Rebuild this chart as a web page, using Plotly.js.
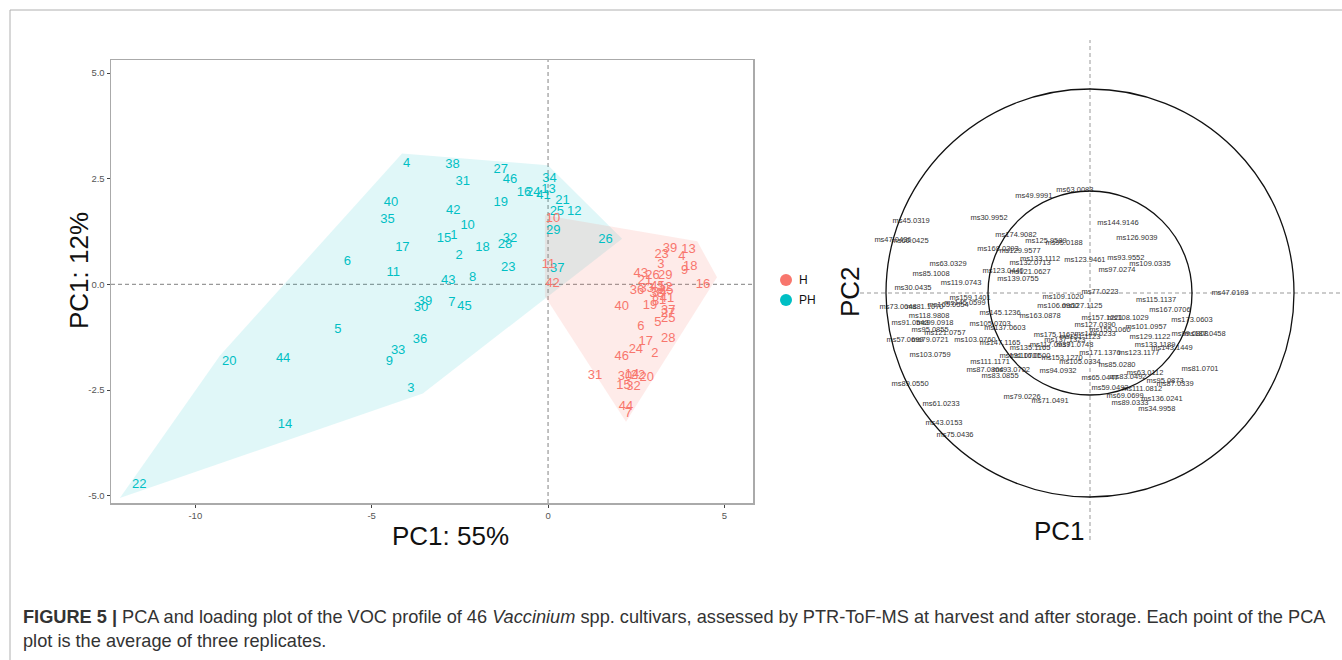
<!DOCTYPE html>
<html>
<head>
<meta charset="utf-8">
<script src="https://cdn.plot.ly/plotly-3.0.1.min.js"></script>
<style>html,body{margin:0;padding:0;background:#fff;}#chart{width:1342px;height:660px;}</style>
</head>
<body>
<div id="chart"></div>
<script>
// ---------- PCA scores (left panel) ----------
const phIds = [1,2,3,4,5,6,7,8,9,10,11,12,13,14,15,16,17,18,19,20,21,22,23,24,25,26,27,28,29,30,31,32,33,34,35,36,37,38,39,40,41,42,43,44,45,46];
const phPC1 = [-2.67,-2.52,-3.89,-4.01,-5.96,-5.69,-2.73,-2.14,-4.50,-2.28,-4.39,0.74,0.01,-7.46,-2.95,-0.68,-4.13,-1.86,-1.34,-9.04,0.41,-11.59,-1.13,-0.42,0.25,1.63,-1.34,-1.22,0.15,-3.60,-2.42,-1.08,-4.25,0.04,-4.55,-3.63,0.26,-2.71,-3.49,-4.45,-0.13,-2.69,-2.83,-7.51,-2.37,-1.08];
const phPC2 = [1.16,0.69,-2.47,2.86,-1.06,0.53,-0.44,0.16,-1.83,1.38,0.28,1.71,2.25,-3.33,1.07,2.16,0.88,0.87,1.93,-1.82,1.97,-4.74,0.40,2.18,1.71,1.06,2.72,0.94,1.26,-0.55,2.42,1.07,-1.56,2.49,1.52,-1.30,0.37,2.84,-0.40,1.94,2.11,1.75,0.09,-1.75,-0.52,2.48];

const hIds = [1,2,3,4,5,6,7,8,9,10,11,12,13,14,15,16,17,18,19,20,21,22,23,24,25,26,27,28,29,30,31,32,33,34,35,36,37,38,39,40,41,42,43,44,45,46];
const hPC1 = [3.25,3.03,3.20,3.79,3.11,2.63,2.28,3.05,3.87,0.14,0.01,3.32,3.98,2.38,2.14,4.39,2.77,4.03,2.89,2.80,2.75,2.55,3.22,2.49,3.41,2.96,3.40,3.41,3.32,2.18,1.33,2.42,2.80,3.15,3.35,2.52,3.41,3.08,3.46,2.09,3.37,0.13,2.63,2.21,3.10,2.09];
const hPC2 = [-0.38,-1.64,0.47,0.65,-0.91,-1.01,-3.06,-0.40,0.32,1.56,0.47,-0.08,0.83,-2.14,-2.39,-0.01,-1.35,0.41,-0.50,-2.20,0.09,-2.16,0.71,-1.55,-0.81,0.21,-0.70,-1.29,0.21,-2.18,-2.16,-2.42,-0.10,-0.20,-0.15,-0.14,-0.62,-0.22,0.85,-0.52,-0.34,0.02,0.25,-2.89,-0.06,-1.71];

// convex hull outlines
const phHullX = [-12.14,-3.55,2.10,0.00,-4.14,-9.30];
const phHullY = [-5.05,-2.58,1.08,2.82,3.10,-1.68];
const hHullX = [-0.09,4.23,4.79,2.21,-0.09];
const hHullY = [1.64,1.02,0.17,-3.25,-0.28];

const groups = ["H","PH"];
const xTicks = [-10,-5,0,5];
const yTicks = [-5,-2.5,0,2.5,5];

// ---------- Loadings (right panel) ----------
const loadNames = ["ms49.9991","ms63.0083","ms144.9146","ms126.9039","ms93.9552","ms109.0335","ms123.9461","ms97.0274","ms45.0319","ms47.0436","ms60.0425","ms30.9952","ms174.9082","ms125.9589","ms95.0188","ms168.0393","ms129.9577","ms133.1112","ms132.0713","ms63.0329","ms85.1008","ms119.0743","ms123.0440","ms121.0627","ms139.0755","ms30.0435","ms47.0193","ms77.0223","ms109.1020","ms106.0960","ms127.1125","ms159.1401","ms73.0648","ms81.1070","ms165.0554","ms145.0599","ms145.1236","ms163.0878","ms118.9808","ms99.0918","ms91.0543","ms105.0703","ms137.0603","ms95.0855","ms121.0757","ms57.0699","ms79.0721","ms103.0760","ms175.1162","ms147.1165","ms117.0937","ms149.0233","ms103.0759","ms135.1165","ms116.0500","ms89.0550","ms61.0233","ms43.0153","ms75.0436","ms79.0226","ms71.0491","ms94.0932","ms115.1137","ms157.1221","ms108.1029","ms101.0957","ms173.0603","ms167.0706","ms133.1189","ms143.1449","ms171.1376","ms123.1177","ms85.0280","ms81.0701","ms111.0812","ms136.0241","ms34.9958","ms89.0333","ms65.0447","ms83.0492","ms63.0112","ms95.0873","ms87.0339","ms99.0808","ms187.0458","ms129.1122","ms69.0699","ms59.0492","ms151.1123","ms91.0748","ms137.1323","ms105.0334","ms153.1270","ms87.0804","ms83.0855","ms93.0702","ms111.1171","ms131.0701","ms127.0390","ms155.1060"];
const loadPC1 = [-0.275,-0.074,0.137,0.230,0.176,0.294,-0.025,0.132,-0.877,-0.966,-0.882,-0.495,-0.363,-0.216,-0.127,-0.451,-0.343,-0.245,-0.294,-0.696,-0.779,-0.632,-0.426,-0.294,-0.353,-0.868,0.686,0.049,-0.132,-0.157,-0.039,-0.588,-0.941,-0.809,-0.696,-0.613,-0.441,-0.245,-0.789,-0.760,-0.882,-0.490,-0.417,-0.784,-0.711,-0.907,-0.784,-0.564,-0.176,-0.441,-0.196,0.025,-0.784,-0.294,-0.294,-0.882,-0.730,-0.716,-0.662,-0.333,-0.196,-0.157,0.324,0.059,0.186,0.275,0.500,0.392,0.319,0.402,0.049,0.240,0.132,0.539,0.255,0.353,0.328,0.196,0.049,0.186,0.270,0.368,0.417,0.490,0.564,0.294,0.172,0.098,-0.049,-0.074,-0.123,-0.049,-0.137,-0.515,-0.441,-0.385,-0.490,-0.343,0.025,0.098];
const loadPC2 = [0.475,0.505,0.343,0.270,0.172,0.142,0.162,0.113,0.353,0.260,0.255,0.368,0.284,0.255,0.245,0.216,0.206,0.167,0.147,0.142,0.093,0.049,0.108,0.103,0.069,0.025,0.000,0.005,-0.020,-0.064,-0.064,-0.025,-0.069,-0.069,-0.059,-0.049,-0.098,-0.113,-0.113,-0.147,-0.147,-0.152,-0.172,-0.181,-0.196,-0.230,-0.230,-0.230,-0.206,-0.245,-0.255,-0.201,-0.304,-0.270,-0.309,-0.446,-0.544,-0.637,-0.696,-0.510,-0.529,-0.382,-0.034,-0.123,-0.123,-0.167,-0.132,-0.083,-0.255,-0.270,-0.294,-0.294,-0.353,-0.373,-0.471,-0.520,-0.569,-0.539,-0.417,-0.412,-0.392,-0.431,-0.446,-0.201,-0.201,-0.216,-0.505,-0.466,-0.216,-0.255,-0.230,-0.338,-0.319,-0.377,-0.407,-0.377,-0.338,-0.309,-0.157,-0.181];
const circleRadii = [1, 0.5];

// ---------- styling ----------
const W = 1342, H = 660;
const px = v => v / W;
const py = v => 1 - v / H;
const teal = "#00BFC4", red = "#F8766D";
const FONT = "Liberation Sans, Arial, sans-serif";

const traces = [
  {x: phHullX, y: phHullY, type: "scatter", mode: "lines", fill: "toself",
   fillcolor: "rgba(0,191,196,0.12)", line: {width: 0}, hoverinfo: "skip", showlegend: false},
  {x: hHullX, y: hHullY, type: "scatter", mode: "lines", fill: "toself",
   fillcolor: "rgba(248,118,109,0.15)", line: {width: 0}, hoverinfo: "skip", showlegend: false},
  {x: phPC1, y: phPC2, text: phIds.map(String), type: "scatter", mode: "text",
   textfont: {family: FONT, size: 13, color: teal}, showlegend: false, cliponaxis: false},
  {x: hPC1, y: hPC2, text: hIds.map(String), type: "scatter", mode: "text",
   textfont: {family: FONT, size: 13, color: red}, showlegend: false, cliponaxis: false},
  {x: loadPC1, y: loadPC2, text: loadNames, type: "scatter", mode: "text",
   xaxis: "x2", yaxis: "y2",
   textfont: {family: "Liberation Sans Narrow, Arial Narrow, " + FONT, size: 7.5, color: "#333"},
   showlegend: false, cliponaxis: false}
];

const shapes = [
  // figure frame
  {type: "line", xref: "paper", yref: "paper", x0: px(10), x1: 1, y0: py(10), y1: py(10), line: {color: "#b0b0b0", width: 1}},
  {type: "line", xref: "paper", yref: "paper", x0: px(10), x1: px(10), y0: py(10), y1: 0, line: {color: "#b0b0b0", width: 1}},
  // left dashed zero lines
  {type: "line", xref: "x", yref: "y domain", x0: 0, x1: 0, y0: 0, y1: 1, line: {color: "#999", width: 1.2, dash: "4px,3px"}, layer: "below"},
  {type: "line", xref: "x domain", yref: "y", x0: 0, x1: 1, y0: 0, y1: 0, line: {color: "#999", width: 1.2, dash: "4px,3px"}, layer: "below"},
  // right dashed zero lines
  {type: "line", xref: "x2", yref: "y2 domain", x0: 0, x1: 0, y0: 0, y1: 1, line: {color: "#999", width: 1, dash: "4px,3px"}, layer: "below"},
  {type: "line", xref: "x2 domain", yref: "y2", x0: 0, x1: 1, y0: 0, y1: 0, line: {color: "#999", width: 1, dash: "4px,3px"}, layer: "below"},
  // legend keys
  {type: "circle", xref: "paper", yref: "paper", xsizemode: "pixel", ysizemode: "pixel",
   xanchor: px(786), yanchor: py(280), x0: -6, x1: 6, y0: -6, y1: 6, fillcolor: red, line: {width: 0}},
  {type: "circle", xref: "paper", yref: "paper", xsizemode: "pixel", ysizemode: "pixel",
   xanchor: px(786), yanchor: py(300), x0: -6, x1: 6, y0: -6, y1: 6, fillcolor: teal, line: {width: 0}}
];
circleRadii.forEach(r => shapes.push({type: "circle", xref: "x2", yref: "y2",
  x0: -r, x1: r, y0: -r, y1: r, line: {color: "#111", width: 1.3}}));

const annotations = [
  {text: "PC1: 12%", x: px(62), y: py(271), xref: "paper", yref: "paper", textangle: -90, showarrow: false,
   font: {family: FONT, size: 26, color: "#111"}},
  {text: "PC1: 55%", x: px(450), y: py(553), xref: "paper", yref: "paper", showarrow: false,
   font: {family: FONT, size: 26, color: "#111"}},
  {text: "PC2", x: px(850), y: py(292), xref: "paper", yref: "paper", textangle: -90, showarrow: false,
   font: {family: FONT, size: 26, color: "#111"}},
  {text: "PC1", x: px(1087), y: py(548), xref: "paper", yref: "paper", showarrow: false,
   font: {family: FONT, size: 26, color: "#111"}},
  {text: groups[0], x: px(797), y: py(280), xref: "paper", yref: "paper", xanchor: "left", showarrow: false,
   font: {family: FONT, size: 12, color: "#111"}},
  {text: groups[1], x: px(797), y: py(300), xref: "paper", yref: "paper", xanchor: "left", showarrow: false,
   font: {family: FONT, size: 12, color: "#111"}},
  {text: "<b>FIGURE 5 |</b> PCA and loading plot of the VOC profile of 46 <i>Vaccinium</i> spp. cultivars, assessed by PTR-ToF-MS at harvest and after storage. Each point of the PCA",
   x: px(21), y: py(617), xref: "paper", yref: "paper", xanchor: "left", yanchor: "middle", showarrow: false,
   font: {family: FONT, size: 18.2, color: "#333"}},
  {text: "plot is the average of three replicates.",
   x: px(21), y: py(641), xref: "paper", yref: "paper", xanchor: "left", yanchor: "middle", showarrow: false,
   font: {family: FONT, size: 18.2, color: "#333"}}
];

// right panel scale: 204 px per unit, centre at (1090, 293)
const R = 204, cx = 1090, cy = 293;
const x2d = [860, 1342], y2d = [40, 540];

const layout = {
  width: W, height: H, margin: {l: 0, r: 0, t: 0, b: 0},
  paper_bgcolor: "#fff", plot_bgcolor: "rgba(0,0,0,0)", showlegend: false,
  font: {family: FONT},
  xaxis: {domain: [px(111), px(753)], range: [-12.39, 5.81], tickvals: xTicks, ticktext: xTicks.map(String),
    showgrid: false, zeroline: false, showline: true, mirror: true, linecolor: "#aaa", linewidth: 1.5,
    ticks: "outside", ticklen: 3, tickcolor: "#444", tickfont: {size: 9.5, color: "#555"}, anchor: "y"},
  yaxis: {domain: [py(503), py(60)], range: [-5.17, 5.31], tickvals: yTicks, ticktext: yTicks.map(v => v.toFixed(1)),
    showgrid: false, zeroline: false, showline: true, mirror: true, linecolor: "#aaa", linewidth: 1.5,
    ticks: "outside", ticklen: 3, tickcolor: "#444", tickfont: {size: 9.5, color: "#555"}, anchor: "x"},
  xaxis2: {domain: [px(x2d[0]), px(x2d[1])], range: [(x2d[0]-cx)/R, (x2d[1]-cx)/R],
    visible: false, showgrid: false, zeroline: false, anchor: "y2"},
  yaxis2: {domain: [py(y2d[1]), py(y2d[0])], range: [(cy-y2d[1])/R, (cy-y2d[0])/R],
    visible: false, showgrid: false, zeroline: false, anchor: "x2"},
  shapes: shapes, annotations: annotations
};

Plotly.newPlot("chart", traces, layout, {displayModeBar: false, staticPlot: true});
</script>
</body>
</html>
